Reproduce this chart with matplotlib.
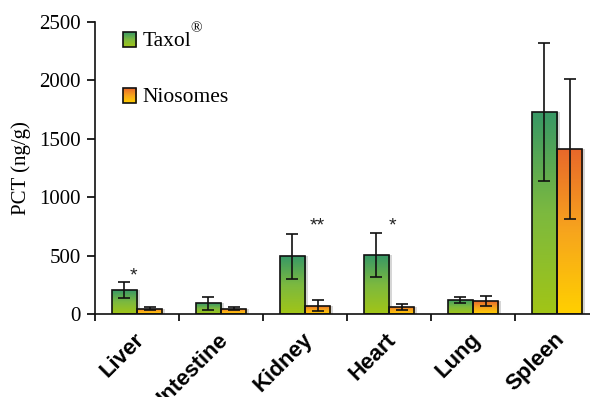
"""
Tissue distribution of PCT: Taxol vs Niosomes, grouped bars with gradient fill.
"""

import numpy as np
import matplotlib
matplotlib.use("Agg")
import matplotlib.pyplot as plt
from matplotlib.colors import LinearSegmentedColormap
from matplotlib.patches import Rectangle


organs = ["Liver", "Intestine", "Kidney", "Heart", "Lung", "Spleen"]
taxol_mean = [205, 90, 493, 505, 120, 1730]
taxol_err = [68, 55, 190, 190, 22, 590]
nio_mean = [45, 45, 72, 60, 110, 1410]
nio_err = [14, 12, 45, 22, 42, 600]

# significance marks: (x in category units, y in data units, text)
sig_marks = [(-0.04, 325, "*"), (2.15, 753, "**"), (3.04, 753, "*")]

TAXOL_CMAP = LinearSegmentedColormap.from_list("taxol", ["#a2c516", "#7cb93f", "#379866"])
NIO_CMAP = LinearSegmentedColormap.from_list("nio", ["#ffd000", "#f7a51d", "#e9682a"])

SERIF = ["Liberation Serif", "DejaVu Serif"]
SANS = ["Liberation Sans", "DejaVu Sans"]


def gradient_bar(ax, x0, width, y0, height, cmap, zorder=2):
    grad = np.linspace(0, 1, 256).reshape(-1, 1)
    rect = Rectangle((x0, y0), width, height, facecolor="none",
                     edgecolor="#111111", linewidth=1.2, zorder=zorder + 1)
    ax.add_patch(rect)
    img = ax.imshow(grad, cmap=cmap, origin="lower", aspect="auto",
                    extent=(x0, x0 + width, y0, y0 + height), zorder=zorder)
    img.set_clip_path(rect)


fig = plt.figure(figsize=(5.9, 3.97), dpi=100)
ax = fig.add_axes([95 / 590, 1 - 314 / 397, 504 / 590, 292 / 397])

w = 0.3
x = np.arange(len(organs))
for i in range(len(organs)):
    # light shadow behind bars
    for dx, m in ((-w, taxol_mean[i]), (0, nio_mean[i])):
        ax.add_patch(Rectangle((x[i] + dx + 0.03, 0), w, m, facecolor="#bbbbbb",
                               edgecolor="none", alpha=0.6, zorder=1))
    gradient_bar(ax, x[i] - w, w, 0, taxol_mean[i], TAXOL_CMAP)
    gradient_bar(ax, x[i], w, 0, nio_mean[i], NIO_CMAP)

ax.errorbar(x - w / 2, taxol_mean, yerr=taxol_err, fmt="none", ecolor="#111111",
            elinewidth=1.2, capsize=4, capthick=1.2, zorder=5)
ax.errorbar(x + w / 2, nio_mean, yerr=nio_err, fmt="none", ecolor="#111111",
            elinewidth=1.2, capsize=4, capthick=1.2, zorder=5)

for sx, sy, s in sig_marks:
    ax.text(sx, sy, s, ha="center", va="center", fontsize=14, color="#222222",
            family=SANS)

ax.set_xlim(-0.5, len(organs) - 0.5)
ax.set_ylim(0, 2500)
ax.set_yticks(range(0, 2501, 500))
ax.set_yticklabels([str(v) for v in range(0, 2501, 500)], family=SERIF, fontsize=15)
ax.set_ylabel("PCT (ng/g)", family=SERIF, fontsize=15, labelpad=6)

ax.set_xticks(np.arange(len(organs) + 1) - 0.5)
ax.set_xticklabels([])
ax.tick_params(axis="x", direction="out", length=5, width=1.2)
ax.tick_params(axis="y", direction="out", length=6, width=1.2, pad=4)

for i, name in enumerate(organs):
    ax.text(x[i] - 0.04, -130, name, rotation=45, ha="right", va="top",
            rotation_mode="anchor", fontsize=16, fontweight="bold", family=SANS)

for side in ("top", "right"):
    ax.spines[side].set_visible(False)
for side in ("left", "bottom"):
    ax.spines[side].set_linewidth(1.2)
    ax.spines[side].set_color("#111111")

# legend, drawn by hand
gradient_bar(ax, -0.167, 0.155, 2286, 128, TAXOL_CMAP, zorder=6)
gradient_bar(ax, -0.167, 0.155, 1806, 128, NIO_CMAP, zorder=6)
ax.text(0.07, 2330, "Taxol", family=SERIF, fontsize=15.5, va="center")
ax.text(0.63, 2440, "\u00ae", family=SERIF, fontsize=11, va="center")
ax.text(0.07, 1850, "Niosomes", family=SERIF, fontsize=15.5, va="center")

fig.savefig("out.png", dpi=100)
